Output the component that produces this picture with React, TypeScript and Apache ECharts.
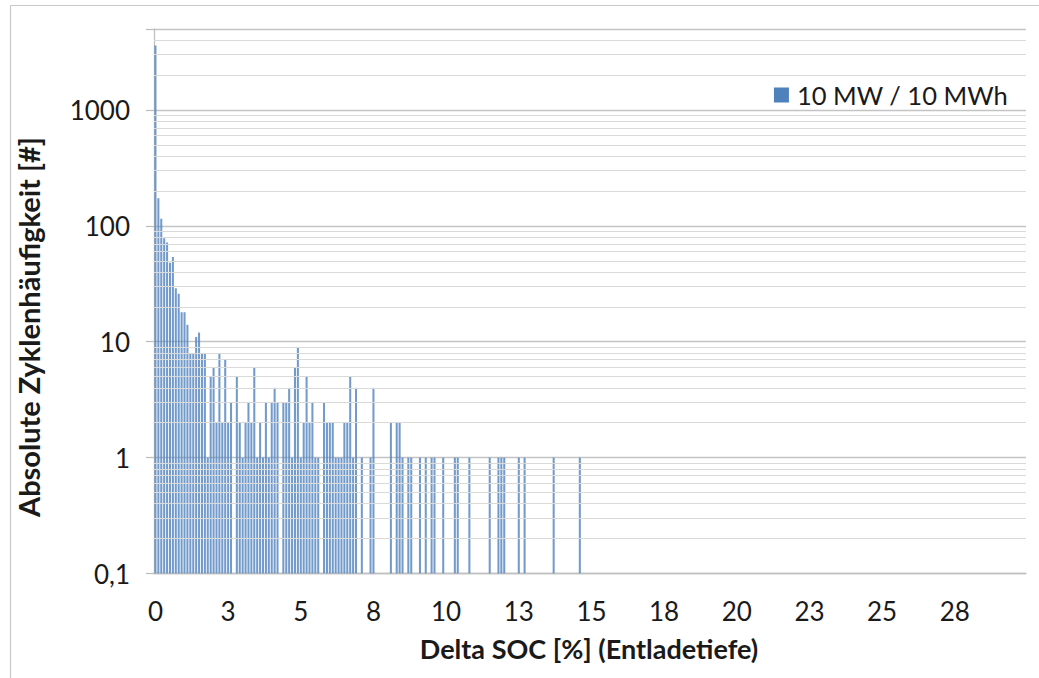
import React, { useEffect, useRef } from "react";
import * as echarts from "echarts";

// Delta SOC categories in 0.1 % steps (0.0 … 29.9)
const categories: string[] = Array.from({ length: 300 }, (_, i) => (i / 10).toFixed(1));

// Absolute cycle counts per category (index 0 = 0.0 %); 0 = no cycles
const counts: number[] = [
  3600, 173, 115, 78, 72, 48, 54, 29, 26, 18,
  18, 14, 8, 8, 11, 12, 8, 8, 1, 5,
  6, 2, 8, 2, 7, 2, 3, 0, 5, 2,
  1, 2, 3, 2, 6, 1, 2, 1, 3, 1,
  3, 4, 3, 0, 3, 3, 4, 1, 6, 9,
  1, 2, 5, 2, 3, 1, 1, 0, 3, 2,
  2, 2, 1, 1, 1, 2, 2, 5, 1, 4,
  0, 1, 0, 0, 1, 4, 0, 0, 0, 0,
  0, 2, 0, 2, 2, 1, 0, 1, 1, 0,
  0, 1, 0, 1, 0, 1, 1, 0, 0, 1,
  0, 0, 0, 1, 1, 0, 0, 0, 1, 0,
  0, 0, 0, 0, 0, 1, 0, 0, 1, 1,
  1, 0, 0, 0, 0, 1, 0, 1, 0, 0,
  0, 0, 0, 0, 0, 0, 0, 1, 0, 0,
  0, 0, 0, 0, 0, 0, 1,
];

const seriesName = "10 MW / 10 MWh";
const yMajorTicks: number[] = [0.1, 1, 10, 100, 1000];
const yMinorGrid: number[] = [
  0.2, 0.3, 0.4, 0.5, 0.6, 0.7, 0.8, 0.9,
  2, 3, 4, 5, 6, 7, 8, 9,
  20, 30, 40, 50, 60, 70, 80, 90,
  200, 300, 400, 500, 600, 700, 800, 900,
  2000, 3000, 4000,
];

const BAR = "#4f81bd";
const FONT = "Lato, 'Open Sans', sans-serif";

export default function App() {
  const ref = useRef<HTMLDivElement>(null);

  useEffect(() => {
    if (!ref.current) return;
    const chart = echarts.init(ref.current, null, { renderer: "svg" });

    const barData = counts
      .map((v, i) => [i, v])
      .filter((d) => d[1] > 0);

    const option: any = {
      animation: false,
      backgroundColor: "#ffffff",
      textStyle: { fontFamily: FONT },
      grid: { left: 154, right: 13, top: 29, bottom: 104.5, containLabel: false },
      legend: {
        data: [{ name: seriesName, icon: "rect" }],
        right: 26,
        top: 75,
        itemWidth: 15,
        itemHeight: 15,
        itemGap: 10,
        itemStyle: { color: BAR },
        textStyle: { fontFamily: FONT, fontSize: 25.5, color: "#1a1a1a", lineHeight: 30, padding: [0, 0, 0, 3] },
      },
      xAxis: {
        type: "category",
        data: categories,
        boundaryGap: true,
        axisLine: { lineStyle: { color: "#bfbfbf", width: 1.3 } },
        axisTick: { interval: 24, length: 9, lineStyle: { color: "#bfbfbf", width: 1.3 } },
        axisLabel: {
          interval: 24,
          margin: 24,
          fontFamily: FONT,
          fontSize: 26,
          color: "#1a1a1a",
          formatter: (v: string) => String(Math.round(parseFloat(v))),
        },
        splitLine: { show: false },
      },
      yAxis: {
        type: "log",
        logBase: 10,
        min: 0.1,
        max: 5000,
        axisLine: { show: true, lineStyle: { color: "#bfbfbf", width: 1.3 } },
        axisTick: { show: true, length: 8, lineStyle: { color: "#bfbfbf", width: 1.3 } },
        axisLabel: {
          margin: 24,
          fontFamily: FONT,
          fontSize: 26,
          color: "#1a1a1a",
          formatter: (v: number) => {
            const hit = yMajorTicks.find((t) => Math.abs(t - v) / t < 1e-6);
            if (hit === undefined) return "";
            return String(hit).replace(".", ",");
          },
        },
        splitLine: { show: true, lineStyle: { color: "#c4c4c4", width: 1.4 } },
      },
      graphic: [
        {
          type: "line",
          shape: { x1: 10.5, y1: 5.5, x2: 1039, y2: 5.5 },
          style: { stroke: "#c8c8c8", lineWidth: 1.2 },
          silent: true,
        },
        {
          type: "line",
          shape: { x1: 10.5, y1: 5.5, x2: 10.5, y2: 678 },
          style: { stroke: "#c8c8c8", lineWidth: 1.2 },
          silent: true,
        },
        {
          type: "text",
          x: 28,
          y: 327,
          rotation: Math.PI / 2,
          style: {
            text: "Absolute Zyklenhäufigkeit [#]",
            font: `bold 29px ${FONT}`,
            fill: "#1a1a1a",
            textAlign: "center",
            textVerticalAlign: "middle",
          },
        },
        {
          type: "text",
          x: 589,
          y: 648,
          style: {
            text: "Delta SOC [%] (Entladetiefe)",
            font: `bold 27px ${FONT}`,
            fill: "#1a1a1a",
            textAlign: "center",
            textVerticalAlign: "middle",
          },
        },
      ],
      series: [
        {
          name: "_grid",
          type: "line",
          data: [],
          z: 1,
          silent: true,
          markLine: {
            silent: true,
            symbol: "none",
            label: { show: false },
            animation: false,
            lineStyle: { color: "#dadada", width: 1.2, type: "solid" },
            data: yMinorGrid.map((v) => ({ yAxis: v })),
          },
        },
        {
          name: seriesName,
          type: "custom",
          z: 3,
          itemStyle: { color: BAR },
          encode: { x: 0, y: 1 },
          data: barData,
          clip: true,
          renderItem: (params: any, api: any) => {
            const idx = api.value(0);
            const v = api.value(1);
            const top = api.coord([idx, v]);
            const base = api.coord([idx, 0.1]);
            const w = api.size([1, 1])[0] * 0.7;
            return {
              type: "rect",
              shape: { x: top[0] - w / 2, y: top[1], width: w, height: base[1] - top[1] },
              style: { fill: BAR, opacity: 0.8 },
            };
          },
        },
      ],
    };

    chart.setOption(option);
    return () => chart.dispose();
  }, []);

  return (
    <div
      ref={ref}
      style={{ position: "fixed", left: 0, top: 0, width: 1039, height: 678, background: "#fff" }}
    />
  );
}
